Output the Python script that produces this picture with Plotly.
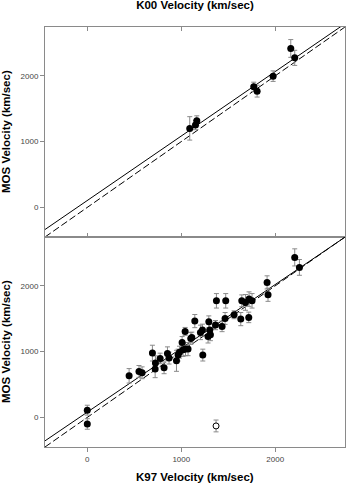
import plotly.graph_objects as go
from plotly.subplots import make_subplots

# Top panel: K00 velocity vs MOS velocity
k00_vel = [1090, 1151, 1165, 1771, 1807, 1977, 2165, 2207]
mos_top = [1201, 1251, 1317, 1833, 1767, 1995, 2416, 2273]
mos_top_err = [178, 70, 75, 70, 90, 80, 135, 115]

# Bottom panel: K97 velocity vs MOS velocity
k97_vel = [0, 0, 445, 550, 583, 693, 725, 722, 775, 817, 853, 870, 949, 966,
           981, 1009, 1019, 1045, 1072, 1041, 1101, 1112, 1144, 1204, 1225,
           1229, 1285, 1293, 1303, 1310, 1364, 1374, 1434, 1466, 1473, 1562,
           1633, 1644, 1683, 1718, 1721, 1753, 1913, 1923, 2207, 2257]
mos_bot = [110, -100, 632, 699, 678, 977, 825, 734, 896, 754, 972, 901, 860, 947,
           992, 1139, 1027, 1038, 1038, 1307, 1200, 1216, 1464, 1292, 1327,
           947, 1231, 1453, 1327, 1256, 1403, 1772, 1383, 1504, 1772, 1560,
           1494, 1772, 1748, 1520, 1798, 1772, 2052, 1864, 2432, 2280]
mos_bot_err = [75, 80, 110, 90, 90, 120, 110, 130, 80, 90, 100, 90, 160, 90,
               90, 90, 100, 100, 100, 60, 90, 80, 100, 110, 90,
               90, 100, 90, 90, 90, 70, 110, 80, 90, 110, 60,
               100, 90, 120, 80, 110, 110, 100, 100, 130, 120]

# excluded point (open symbol)
k97_out = [1370]
mos_out = [-130]
mos_out_err = [90]

# fitted relations (solid), dashed is one-to-one
fit_top = (0.98, 105)
fit_bot = (0.97, 80)
line_x = [-450, 2740]

axis_rng = [-450, 2742]
font = "Liberation Sans, Arial, sans-serif"
grey = "#8a8a8a"

fig = make_subplots(rows=2, cols=1, vertical_spacing=0)


def add_panel(row, xs, ys, errs, fit):
    fig.add_trace(go.Scatter(x=line_x, y=[fit[0] * v + fit[1] for v in line_x], mode="lines",
                             line=dict(color="black", width=1), showlegend=False), row=row, col=1)
    fig.add_trace(go.Scatter(x=line_x, y=line_x, mode="lines",
                             line=dict(color="black", width=1, dash="7px,3px"), showlegend=False),
                  row=row, col=1)
    fig.add_trace(go.Scatter(x=xs, y=ys, mode="markers",
                             marker=dict(color="black", size=7),
                             error_y=dict(type="data", array=errs, color=grey, thickness=1, width=2.5),
                             showlegend=False), row=row, col=1)


add_panel(1, k00_vel, mos_top, mos_top_err, fit_top)
add_panel(2, k97_vel, mos_bot, mos_bot_err, fit_bot)
fig.add_trace(go.Scatter(x=k97_out, y=mos_out, mode="markers",
                         marker=dict(color="white", size=6, line=dict(color="black", width=1)),
                         error_y=dict(type="data", array=mos_out_err, color=grey, thickness=1, width=2.5),
                         showlegend=False), row=2, col=1)

tick_font = dict(family=font, size=8, color="#444")
common = dict(range=axis_rng, showgrid=False, zeroline=False, showline=True,
              linecolor=grey, linewidth=1, tickcolor=grey, ticklen=4,
              tickvals=[0, 1000, 2000], tickfont=tick_font)

fig.update_xaxes(ticks="inside", mirror="ticks", showticklabels=False, row=1, col=1, **common)
fig.update_xaxes(ticks="outside", mirror=True, row=2, col=1, **common)
fig.update_yaxes(ticks="outside", mirror=True, **common)

title_font = dict(family=font, size=11.5, color="black")
ytitle = "<b>MOS Velocity (km/sec)</b>"
fig.update_layout(
    width=346, height=485,
    margin=dict(l=45, r=1, t=27, b=38),
    plot_bgcolor="white", paper_bgcolor="white",
    title=dict(text="<b>K00 Velocity (km/sec)</b>", x=0.5635, xanchor="center",
               y=1 - 1.0 / 485, yanchor="top", font=title_font),
    annotations=[
        dict(text="<b>K97 Velocity (km/sec)</b>", xref="paper", yref="paper",
             x=0.5, y=0, xanchor="center", yanchor="middle", yshift=-30,
             showarrow=False, font=title_font),
        dict(text=ytitle, xref="paper", yref="paper", x=-39.0 / 300, y=0.75,
             xanchor="center", yanchor="middle", textangle=-90, showarrow=False, font=title_font),
        dict(text=ytitle, xref="paper", yref="paper", x=-39.0 / 300, y=0.25,
             xanchor="center", yanchor="middle", textangle=-90, showarrow=False, font=title_font),
    ],
)

fig.write_html("out.html", config={"displayModeBar": False},
               post_script="document.body.style.margin='0';")
